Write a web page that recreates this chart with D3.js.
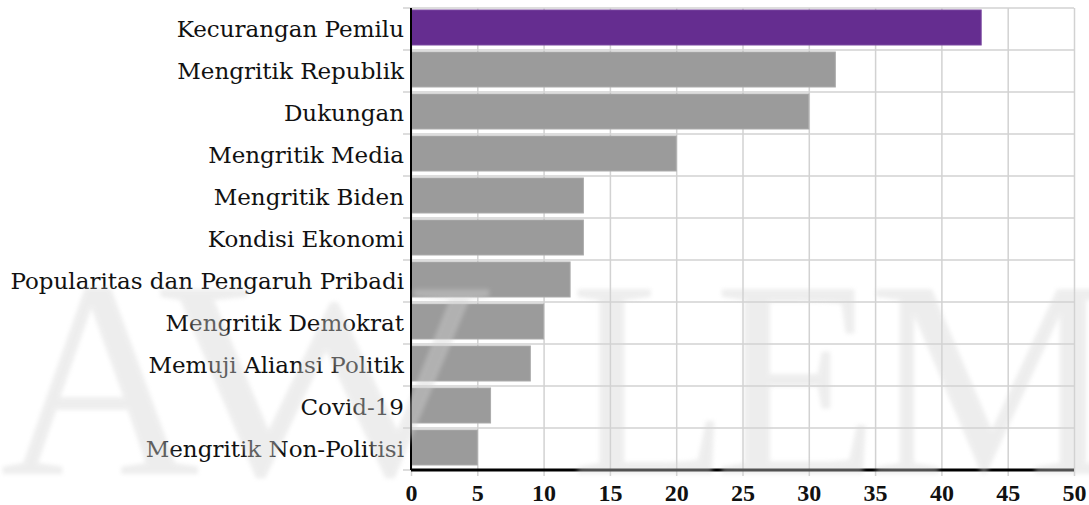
<!DOCTYPE html>
<html>
<head>
<meta charset="utf-8">
<script src="https://cdn.jsdelivr.net/npm/d3@7"></script>
<style>
  body { margin: 0; background: #fff; }
  .label text { font-family: "DejaVu Serif", serif; font-size: 23px; fill: #111; }
  .xaxis text { font-family: "Liberation Serif", serif; font-weight: bold; font-size: 24px; fill: #111; }
</style>
</head>
<body>
<div class="chart"></div>
<script>
// data
var categories = ["Kecurangan Pemilu", "Mengritik Republik", "Dukungan", "Mengritik Media",
                  "Mengritik Biden", "Kondisi Ekonomi", "Popularitas dan Pengaruh Pribadi",
                  "Mengritik Demokrat", "Memuji Aliansi Politik", "Covid-19", "Mengritik Non-Politisi"];
var values = [43, 32, 30, 20, 13, 13, 12, 10, 9, 6, 5];
var highlighted = ["Kecurangan Pemilu"];
var xTicks = [0, 5, 10, 15, 20, 25, 30, 35, 40, 45, 50];
var watermarkLetters = ["A", "W", "L", "E", "M"];

window.onload = function() {
  var rows = categories.map(function(c, i) { return {name: c, value: values[i]}; });

  var margin = {top: 8, right: 15, bottom: 35, left: 411},
      width = 1089 - margin.left - margin.right,
      height = 505 - margin.top - margin.bottom;

  var svgRoot = d3.select(".chart")
                  .append("svg")
                  .attr("width", 1089)
                  .attr("height", 505);

  var svg = svgRoot.append("g")
                   .attr("transform", "translate(" + margin.left + "," + margin.top + ")");

  var x = d3.scaleLinear().domain([0, 50]).range([0, width]);
  var y = d3.scaleBand().domain(categories).range([0, height]).padding(0);

  // vertical grid
  svg.append("g")
     .attr("transform", "translate(0," + height + ")")
     .call(d3.axisBottom(x).tickValues(xTicks).tickSize(-height).tickFormat(""))
     .call(function(g) {
        g.select(".domain").remove();
        g.selectAll("line").attr("stroke", "#d2d2d2").attr("stroke-width", 1.5);
     });

  // horizontal grid at band edges, poking out left of the axis
  var edges = categories.map(function(c) { return y(c); }).concat([height]);
  svg.append("g")
     .selectAll("line")
     .data(edges)
     .enter()
     .append("line")
     .attr("x1", -8)
     .attr("x2", width)
     .attr("y1", function(d) { return d; })
     .attr("y2", function(d) { return d; })
     .attr("stroke", "#d2d2d2")
     .attr("stroke-width", 1.5);

  // bars
  svg.append("g")
     .selectAll("rect")
     .data(rows)
     .enter()
     .append("rect")
     .attr("x", x(0))
     .attr("y", function(d) { return y(d.name) + 2; })
     .attr("width", function(d) { return x(d.value) - x(0); })
     .attr("height", y.bandwidth() - 7)
     .attr("fill", function(d) { return highlighted.indexOf(d.name) >= 0 ? "#652d90" : "#9b9b9b"; })
     .attr("stroke", function(d) { return highlighted.indexOf(d.name) >= 0 ? "#7a48a0" : "#ababab"; })
     .attr("stroke-width", 1);

  // category labels
  svg.append("g")
     .attr("class", "label")
     .call(d3.axisLeft(y).tickSize(0).tickPadding(7))
     .call(function(g) {
        g.select(".domain").remove();
        g.selectAll("text").attr("dy", "0.36em");
     });

  // x axis
  svg.append("g")
     .attr("class", "xaxis")
     .attr("transform", "translate(0," + height + ")")
     .call(d3.axisBottom(x).tickValues(xTicks).tickSize(6).tickPadding(8))
     .call(function(g) {
        g.select(".domain").remove();
        g.selectAll("line").attr("stroke", "#d2d2d2").attr("stroke-width", 1.5);
     });

  // axis lines
  svg.append("line")
     .attr("x1", 0).attr("x2", 0)
     .attr("y1", 0).attr("y2", height)
     .attr("stroke", "#000").attr("stroke-width", 2);
  svg.append("line")
     .attr("x1", 0).attr("x2", width)
     .attr("y1", height).attr("y2", height)
     .attr("stroke", "#000").attr("stroke-width", 3);

  // faint watermark sitting over everything
  var defs = svgRoot.append("defs");
  defs.append("filter")
      .attr("id", "soft")
      .append("feGaussianBlur")
      .attr("stdDeviation", 2);

  var letterX = [0, 160, 570, 714, 868];
  var letterW = [200, 330, 160, 165, 250];
  svgRoot.append("g")
         .attr("filter", "url(#soft)")
         .attr("opacity", 0.4)
         .selectAll("text")
         .data(watermarkLetters)
         .enter()
         .append("text")
         .attr("x", function(d, i) { return letterX[i]; })
         .attr("y", 474)
         .attr("font-family", "Liberation Serif, serif")
         .attr("font-size", 282)
         .attr("textLength", function(d, i) { return letterW[i]; })
         .attr("lengthAdjust", "spacingAndGlyphs")
         .attr("fill", "#d4d4d4")
         .text(function(d) { return d; });
};
</script>
</body>
</html>
